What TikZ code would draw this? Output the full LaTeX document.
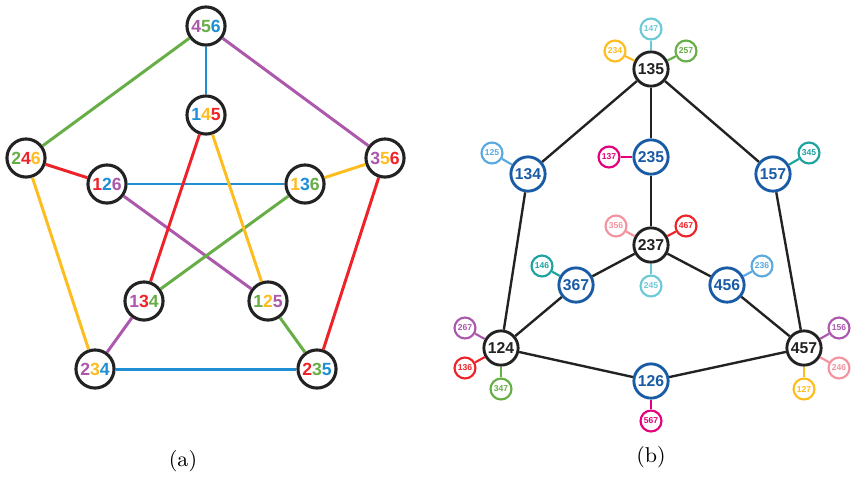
\documentclass[tikz,border=0pt]{standalone}
\usepackage{fontspec}
\newfontfamily\numfont{Liberation Sans}
\usepackage{tikz}

% palette
\definecolor{cpur}{HTML}{AC58AC}
\definecolor{cgrn}{HTML}{66AE45}
\definecolor{cblu}{HTML}{1E8FD5}
\definecolor{cred}{HTML}{EE2329}
\definecolor{cyel}{HTML}{FDBD1F}
\definecolor{dblu}{HTML}{1A5BA5}
\definecolor{ink}{HTML}{222222}
\definecolor{lcya}{HTML}{6CCAD6}
\definecolor{lblu}{HTML}{5AA9DF}
\definecolor{teal}{HTML}{1CA3A0}
\definecolor{mgnt}{HTML}{E4007C}
\definecolor{pink}{HTML}{F4939F}

% three coloured digits
\newcommand\tri[6]{\textcolor{#1}{#2}\textcolor{#3}{#4}\textcolor{#5}{#6}}

\begin{document}
\begin{tikzpicture}[
    x=0.42pt, y=-0.42pt,
    vtx/.style={circle, draw=ink, fill=white, line width=1.3pt, inner sep=0pt,
                minimum size=16pt, font=\numfont\bfseries\fontsize{7.4}{7.4}\selectfont},
    hub/.style={circle, draw=#1, fill=white, line width=1.2pt, inner sep=0pt,
                minimum size=14.4pt, text=#1,
                font=\numfont\bfseries\fontsize{6.6}{6.6}\selectfont},
    hub/.default=ink,
    leaf/.style={circle, draw=#1, fill=white, line width=0.9pt, inner sep=0pt,
                 minimum size=8.8pt, text=#1,
                 font=\numfont\bfseries\fontsize{3.6}{3.6}\selectfont},
    link/.style={line width=1.25pt, draw=#1},
    tie/.style={line width=1pt, draw=ink},
    spoke/.style={line width=0.9pt, draw=#1},
  ]
  \useasboundingbox (0,0) rectangle (857,498);

  % (a) outer pentagon, inner star
  \node[vtx] (a456) at (206,26)  {\tri{cpur}{4}{cgrn}{5}{cblu}{6}};
  \node[vtx] (a145) at (206,115) {\tri{cblu}{1}{cyel}{4}{cred}{5}};
  \node[vtx] (a246) at (26,158)  {\tri{cgrn}{2}{cred}{4}{cyel}{6}};
  \node[vtx] (a126) at (107,184) {\tri{cred}{1}{cblu}{2}{cpur}{6}};
  \node[vtx] (a136) at (305,184) {\tri{cyel}{1}{cblu}{3}{cgrn}{6}};
  \node[vtx] (a356) at (385,158) {\tri{cpur}{3}{cyel}{5}{cred}{6}};
  \node[vtx] (a134) at (144,301) {\tri{cpur}{1}{cred}{3}{cgrn}{4}};
  \node[vtx] (a125) at (268,301) {\tri{cgrn}{1}{cyel}{2}{cpur}{5}};
  \node[vtx] (a234) at (95,369)  {\tri{cpur}{2}{cyel}{3}{cblu}{4}};
  \node[vtx] (a235) at (317,369) {\tri{cred}{2}{cgrn}{3}{cblu}{5}};

  \draw[link=cblu] (a456) -- (a145);
  \draw[link=cgrn] (a456) -- (a246);
  \draw[link=cpur] (a456) -- (a356);
  \draw[link=cred] (a246) -- (a126);
  \draw[link=cyel] (a246) -- (a234);
  \draw[link=cblu] (a126) -- (a136);
  \draw[link=cpur] (a126) -- (a125);
  \draw[link=cyel] (a136) -- (a356);
  \draw[link=cgrn] (a136) -- (a134);
  \draw[link=cred] (a145) -- (a134);
  \draw[link=cyel] (a145) -- (a125);
  \draw[link=cred] (a356) -- (a235);
  \draw[link=cpur] (a134) -- (a234);
  \draw[link=cgrn] (a125) -- (a235);
  \draw[link=cblu] (a234) -- (a235);

  \node[font=\small] (capa) at (183,461) {(a)};

  % (b) hubs
  \node[hub]      (b135) at (651,69)  {135};
  \node[hub=dblu] (b134) at (528,174) {134};
  \node[hub=dblu] (b235) at (651,157) {235};
  \node[hub=dblu] (b157) at (773,174) {157};
  \node[hub]      (b237) at (651,245) {237};
  \node[hub=dblu] (b367) at (576,285) {367};
  \node[hub=dblu] (b456) at (727,285) {456};
  \node[hub]      (b124) at (501,348) {124};
  \node[hub]      (b457) at (804,348) {457};
  \node[hub=dblu] (b126) at (651,381) {126};

  \draw[tie] (b135) -- (b134);
  \draw[tie] (b135) -- (b235);
  \draw[tie] (b135) -- (b157);
  \draw[tie] (b235) -- (b237);
  \draw[tie] (b134) -- (b124);
  \draw[tie] (b157) -- (b457);
  \draw[tie] (b237) -- (b367);
  \draw[tie] (b237) -- (b456);
  \draw[tie] (b367) -- (b124);
  \draw[tie] (b456) -- (b457);
  \draw[tie] (b124) -- (b126);
  \draw[tie] (b126) -- (b457);

  % leaves hanging off the hubs
  \foreach \n/\col/\h/\px/\py in {
      147/lcya/b135/651/29, 234/cyel/b135/615/51, 257/cgrn/b135/686/51,
      125/lblu/b134/492/153, 137/mgnt/b235/609/157, 345/teal/b157/809/153,
      356/pink/b237/616/226, 467/cred/b237/686/226, 245/lcya/b237/651/286,
      146/teal/b367/542/266, 236/lblu/b456/762/266,
      267/cpur/b124/465/328, 136/cred/b124/465/368, 347/cgrn/b124/501/389,
      567/mgnt/b126/651/421,
      156/cpur/b457/839/328, 246/pink/b457/839/368, 127/cyel/b457/804/389} {
    \node[leaf=\col] (c\n) at (\px,\py) {\n};
    \draw[spoke=\col] (\h) -- (c\n);
  }

  \node[font=\small] (capb) at (651,457) {(b)};
\end{tikzpicture}
\end{document}
